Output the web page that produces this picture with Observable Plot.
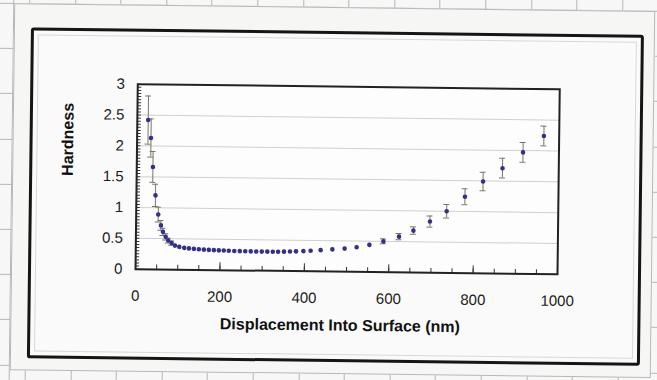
<!DOCTYPE html>
<html>
<head>
<meta charset="utf-8">
<script src="https://cdn.jsdelivr.net/npm/d3@7"></script>
<script src="https://cdn.jsdelivr.net/npm/@observablehq/plot@0.6"></script>
<style>
  html, body { margin: 0; padding: 0; background: #f4f4f4; overflow: hidden; }
  #page { position: relative; width: 657px; height: 380px; transform: rotate(0.7deg); transform-origin: 328px 190px; }
  #sheet { position: absolute; left: -20px; top: -20px; width: 700px; height: 420px;
    background-color: #f7f7f7;
    background-image:
      repeating-linear-gradient(to right, #b5b5b5 0 1px, transparent 1px 45.6px),
      repeating-linear-gradient(to bottom, #b5b5b5 0 1px, transparent 1px 45.2px);
    background-position: 47px 0, 0 26.8px; }
  #area { position: absolute; left: 12px; top: 7px; width: 639px; height: 365px; background: #f6f6f5; border: 1px solid #b8b8b8; }
  #box { position: absolute; left: 29px; top: 31px; width: 607px; height: 325px; border: 3px solid #151515; border-radius: 3px; background: #fafafa; }
  #inner { position: absolute; left: 36px; top: 38px; width: 597px; height: 315px; border: 1px solid #d8d8d8; }
  #chart { position: absolute; left: 0; top: 0; }
</style>
</head>
<body>
<div id="page">
  <div id="sheet"></div>
  <div id="area"></div>
  <div id="box"></div>
  <div id="inner"></div>
  <div id="chart"></div>
</div>
<script>
// Displacement into surface (nm)
const displacement = [25.8, 32.9, 38.3, 45.2, 52.3, 58.9, 63.9, 70.5, 76.7, 84.7, 92.8, 103, 114.8, 126,
  137.7, 149.5, 161.3, 173.1, 185, 196.8, 208.6, 220.5, 233.5, 246.5, 259.5, 272.5, 285.5, 298.7, 311.7,
  324.7, 337.3, 351.3, 365.5, 379.7, 397.2, 414.4, 438.1, 465.8, 494.9, 523.3, 553.4, 586.5, 623.4,
  657.3, 696.3, 735.6, 778.5, 821, 866.7, 914.8, 963.8];
// Hardness
const hardness = [2.42, 2.13, 1.66, 1.20, 0.89, 0.715, 0.61, 0.53, 0.47, 0.43, 0.39, 0.37, 0.355, 0.347,
  0.34, 0.335, 0.33, 0.327, 0.324, 0.321, 0.319, 0.317, 0.315, 0.313, 0.312, 0.311, 0.31, 0.31, 0.31,
  0.31, 0.311, 0.313, 0.316, 0.32, 0.326, 0.333, 0.345, 0.36, 0.375, 0.40, 0.44, 0.50, 0.58,
  0.68, 0.83, 1.00, 1.24, 1.49, 1.71, 1.97, 2.24];
// Error bar half-length
const errorBar = [0.39, 0.31, 0.25, 0.18, 0.12, 0.08, 0.06, 0.05, 0.04, 0.035, 0.03, 0.025, 0.02, 0.02,
  0.02, 0.015, 0.015, 0.015, 0.015, 0.015, 0.015, 0.015, 0.015, 0.015, 0.015, 0.015, 0.015, 0.015, 0.015,
  0.015, 0.015, 0.015, 0.015, 0.015, 0.015, 0.015, 0.02, 0.02, 0.02, 0.025, 0.03, 0.04, 0.05,
  0.06, 0.09, 0.11, 0.13, 0.15, 0.16, 0.16, 0.16];

const xTicks = [0, 200, 400, 600, 800, 1000];
const yTicks = [0, 0.5, 1, 1.5, 2, 2.5, 3];
const yGrid = [0.5, 1, 1.5, 2, 2.5];
const xMinor = d3.range(0, 1001, 50);
const yMinor = d3.range(0, 3.001, 0.05);

const data = displacement.map((x, i) => ({x, y: hardness[i], e: errorBar[i]}));
const capped = data.filter(d => d.e >= 0.035);

const chart = Plot.plot({
  width: 657, height: 380,
  marginLeft: 136, marginRight: 99, marginTop: 86, marginBottom: 109,
  style: {background: "transparent", fontFamily: "'Liberation Sans', Arial, sans-serif", fontSize: "15px", color: "#1c1c1c", overflow: "visible"},
  x: {domain: [0, 1000]},
  y: {domain: [0, 3]},
  marks: [
    Plot.frame({fill: "#fdfdfd"}),
    Plot.gridY(yGrid, {stroke: "#8c8c8c", strokeOpacity: 0.4}),
    Plot.ruleY(yMinor, {x1: 0, x2: 9.5, stroke: "#333"}),
    Plot.ruleX(xMinor, {y1: 0, y2: 0.07, stroke: "#333"}),
    Plot.ruleX(xTicks, {y1: 0, y2: 0.12, stroke: "#333"}),
    Plot.frame({stroke: "#222", strokeWidth: 2}),
    Plot.axisX({ticks: xTicks, tickSize: 0, tickPadding: 21, tickFormat: d => String(d), label: null}),
    Plot.axisY({ticks: yTicks, tickSize: 0, tickPadding: 13, tickFormat: d => String(d), label: null}),
    Plot.ruleX(data, {x: "x", y1: d => d.y - d.e, y2: d => d.y + d.e, stroke: "#77776a", strokeWidth: 1}),
    Plot.ruleY(capped, {y: d => d.y + d.e, x1: d => d.x - 7, x2: d => d.x + 7, stroke: "#77776a"}),
    Plot.ruleY(capped, {y: d => d.y - d.e, x1: d => d.x - 7, x2: d => d.x + 7, stroke: "#77776a"}),
    Plot.dot(data, {x: "x", y: "y", r: 2.3, fill: "#34308a"}),
    Plot.text(["Displacement Into Surface (nm)"], {frameAnchor: "bottom", dx: -6, dy: 59, fontWeight: "bold", fontSize: 16, fill: "#111"}),
    Plot.text(["Hardness"], {frameAnchor: "left", dx: -69, rotate: -90, fontWeight: "bold", fontSize: 16, fill: "#111"})
  ]
});
document.getElementById("chart").appendChild(chart);
</script>
</body>
</html>
